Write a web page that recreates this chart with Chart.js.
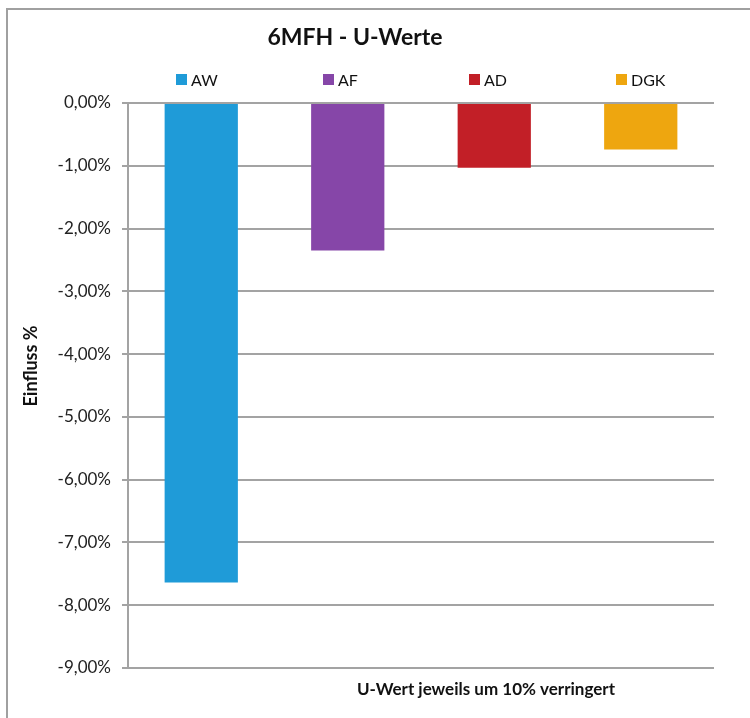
<!DOCTYPE html>
<html>
<head>
<meta charset="utf-8">
<script src="https://cdn.jsdelivr.net/npm/chart.js@4/dist/chart.umd.min.js"></script>
<style>
  html, body { margin: 0; padding: 0; background: #fff; }
  #wrap { width: 750px; height: 718px; }
</style>
</head>
<body>
<div id="wrap"><canvas id="chart" width="750" height="718"></canvas></div>
<script>
// Data (Einfluss in %)
const categories = [''];
const seriesNames = ['AW', 'AF', 'AD', 'DGK'];
const seriesValues = [-7.64, -2.35, -1.03, -0.74];
const seriesColors = ['#1f9bd8', '#8646a8', '#c21f27', '#eea60f'];
const yTicks = { min: -9, max: 0, step: 1 };

const chartTitle = '6MFH - U-Werte';
const xTitle = 'U-Wert jeweils um 10% verringert';
const yTitle = 'Einfluss %';

const GRID = '#a3a3a3';

// frame, title, legend and axis titles drawn like the Excel original
const excelDecor = {
  id: 'excelDecor',
  beforeDraw(chart) {
    const ctx = chart.ctx;
    ctx.save();
    ctx.strokeStyle = '#a0a0a0';
    ctx.lineWidth = 2;
    ctx.strokeRect(7, 9, 1000, 1000);
    ctx.restore();
  },
  afterDraw(chart) {
    const ctx = chart.ctx;
    ctx.save();
    ctx.fillStyle = '#111';
    ctx.textBaseline = 'middle';

    // title
    ctx.font = 'bold 23px Lato';
    ctx.textAlign = 'center';
    ctx.fillText(chartTitle, 355, 38);

    // legend, one entry above each bar
    ctx.font = '16px Lato';
    ctx.textAlign = 'left';
    chart.data.datasets.forEach((ds, i) => {
      const bar = chart.getDatasetMeta(i).data[0];
      const bx = Math.round(bar.x) - 25;
      ctx.fillStyle = ds.backgroundColor;
      ctx.fillRect(bx, 74, 11, 11);
      ctx.fillStyle = '#111';
      ctx.fillText(ds.label, bx + 15, 81);
    });

    // x axis title
    ctx.font = 'bold 17px Lato';
    ctx.textAlign = 'center';
    ctx.fillText(xTitle, 486, 690);

    // y axis title
    ctx.font = 'bold 18px Lato';
    ctx.translate(31, 366);
    ctx.rotate(-Math.PI / 2);
    ctx.fillText(yTitle, 0, 0);
    ctx.restore();
  }
};

Chart.defaults.font.family = 'Lato';

new Chart(document.getElementById('chart'), {
  type: 'bar',
  data: {
    labels: categories,
    datasets: seriesNames.map((name, i) => ({
      label: name,
      data: [seriesValues[i]],
      backgroundColor: seriesColors[i],
      borderWidth: 0,
      categoryPercentage: 1,
      barPercentage: 0.5
    }))
  },
  options: {
    responsive: false,
    animation: false,
    devicePixelRatio: 1,
    layout: { padding: { left: 8, right: 36, top: 103, bottom: 50 } },
    plugins: {
      legend: { display: false },
      title: { display: false },
      tooltip: { enabled: false }
    },
    scales: {
      x: { display: false },
      y: {
        min: yTicks.min,
        max: yTicks.max,
        afterFit(scale) { scale.width = 120; },
        ticks: {
          stepSize: yTicks.step,
          padding: 11,
          color: '#222',
          font: { size: 17 },
          callback: v => v.toFixed(2).replace('.', ',') + '%'
        },
        grid: { color: GRID, lineWidth: 2, tickLength: 6, tickColor: GRID },
        border: { display: true, color: GRID, width: 2 }
      }
    }
  },
  plugins: [excelDecor]
});
</script>
</body>
</html>
